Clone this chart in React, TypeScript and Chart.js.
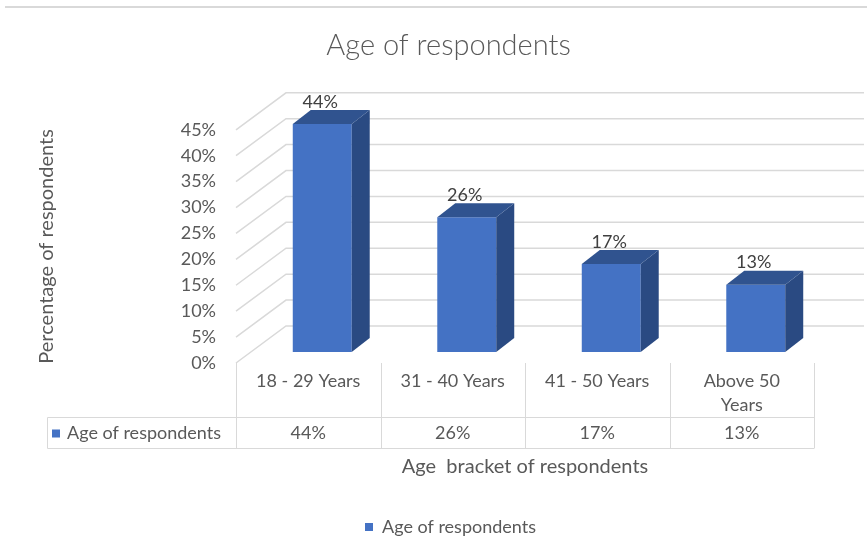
import React, { useEffect, useRef } from "react";
import { Chart, registerables } from "chart.js";

Chart.register(...registerables);

// ---- data ----
const categoryLabels: (string | string[])[] = ["18 - 29 Years", "31 - 40 Years", "41 - 50 Years", ["Above 50", "Years"]];
const values: number[] = [44, 26, 17, 13];
const seriesName = "Age of respondents";
const chartTitle = "Age of respondents";
const xAxisTitle = "Age  bracket of respondents";
const yAxisTitle = "Percentage of respondents";
const yMin = 0;
const yMax = 45;
const yStep = 5;

// ---- style ----
const FONT = "Lato, 'Open Sans', sans-serif";
const TEXT = "#595959";
const GRID = "#d9d9d9";
const FRONT = "#4472c4";
const TOP = "#30538f";
const SIDE = "#2a4a82";
const BAR_OFF = { x: 14, y: -11 };
const WALL = { x: 50, y: -37 };
const DEPTH = { x: 18, y: -14 };

const threeD = {
  id: "threeD",
  afterLayout(chart: any) {
    const lg = chart.legend;
    if (lg) {
      lg.left += 26;
      lg.right += 26;
      lg.top += 9;
      lg.bottom += 9;
    }
    const tb = chart.titleBlock;
    if (tb) {
      tb.left += 24;
      tb.right += 24;
    }
  },
  beforeDatasetsDraw(chart: any) {
    const { ctx, chartArea, scales } = chart;
    const { left, right } = chartArea;
    const y = scales.y;
    ctx.save();
    ctx.strokeStyle = GRID;
    ctx.lineWidth = 1.5;
    y.ticks.forEach((t: any) => {
      const py = y.getPixelForValue(t.value);
      ctx.beginPath();
      ctx.moveTo(left, py);
      ctx.lineTo(left + WALL.x, py + WALL.y);
      ctx.lineTo(right + WALL.x, py + WALL.y);
      ctx.stroke();
    });
    ctx.restore();
    ctx.save();
    ctx.translate(BAR_OFF.x, BAR_OFF.y);
  },
  afterDatasetsDraw(chart: any) {
    const { ctx } = chart;
    ctx.restore();
    const meta = chart.getDatasetMeta(0);
    ctx.save();
    meta.data.forEach((bar: any, i: number) => {
      const { x, y, base, width } = bar.getProps(["x", "y", "base", "width"], true);
      const l = x - width / 2 + BAR_OFF.x;
      const r = x + width / 2 + BAR_OFF.x;
      const t = y + BAR_OFF.y;
      const b = base + BAR_OFF.y;
      ctx.fillStyle = SIDE;
      ctx.beginPath();
      ctx.moveTo(r, t);
      ctx.lineTo(r + DEPTH.x, t + DEPTH.y);
      ctx.lineTo(r + DEPTH.x, b + DEPTH.y);
      ctx.lineTo(r, b);
      ctx.closePath();
      ctx.fill();
      ctx.fillStyle = TOP;
      ctx.beginPath();
      ctx.moveTo(l, t);
      ctx.lineTo(l + DEPTH.x, t + DEPTH.y);
      ctx.lineTo(r + DEPTH.x, t + DEPTH.y);
      ctx.lineTo(r, t);
      ctx.closePath();
      ctx.fill();
      ctx.fillStyle = "#404040";
      ctx.font = `18px ${FONT}`;
      ctx.textAlign = "center";
      ctx.textBaseline = "middle";
      ctx.fillText(values[i] + "%", x + BAR_OFF.x - 2, t - 22);
    });
    ctx.restore();
  },
  afterDraw(chart: any) {
    const { ctx, chartArea } = chart;
    const { left, right, bottom } = chartArea;
    const xs = chart.scales.x;
    const n = values.length;
    const cw = (right - left) / n;
    const rowTop = bottom + 54;
    const rowBot = bottom + 85;
    const keyLeft = 47;
    ctx.save();
    // outer top border
    ctx.strokeStyle = GRID;
    ctx.lineWidth = 2;
    ctx.beginPath();
    ctx.moveTo(5, 7);
    ctx.lineTo(867, 7);
    ctx.stroke();
    // data table
    ctx.lineWidth = 1;
    ctx.strokeStyle = GRID;
    for (let i = 0; i <= n; i++) {
      const bx = Math.round(left + i * cw) + 0.5;
      ctx.beginPath();
      ctx.moveTo(bx, bottom);
      ctx.lineTo(bx, rowBot);
      ctx.stroke();
    }
    ctx.beginPath();
    ctx.moveTo(keyLeft + 0.5, rowTop + 0.5);
    ctx.lineTo(Math.round(right) + 0.5, rowTop + 0.5);
    ctx.moveTo(keyLeft + 0.5, rowBot + 0.5);
    ctx.lineTo(Math.round(right) + 0.5, rowBot + 0.5);
    ctx.moveTo(keyLeft + 0.5, rowTop + 0.5);
    ctx.lineTo(keyLeft + 0.5, rowBot + 0.5);
    ctx.stroke();
    const cy = (rowTop + rowBot) / 2 + 1;
    ctx.font = `18px ${FONT}`;
    ctx.fillStyle = TEXT;
    ctx.textBaseline = "middle";
    ctx.textAlign = "center";
    values.forEach((v, i) => {
      ctx.fillText(v + "%", xs.getPixelForValue(i), cy);
    });
    ctx.fillStyle = FRONT;
    ctx.fillRect(keyLeft + 5, cy - 4, 8, 8);
    ctx.fillStyle = TEXT;
    ctx.textAlign = "left";
    ctx.fillText(seriesName, keyLeft + 20, cy);
    ctx.restore();
  },
};

export default function App() {
  const ref = useRef<HTMLCanvasElement>(null);
  useEffect(() => {
    if (!ref.current) return;
    Chart.defaults.font.family = FONT;
    const chart = new Chart(ref.current, {
      type: "bar",
      data: {
        labels: categoryLabels as any,
        datasets: [
          {
            label: seriesName,
            data: values,
            backgroundColor: FRONT,
            borderWidth: 0,
            barPercentage: 0.408,
            categoryPercentage: 1,
          },
        ],
      },
      options: {
        responsive: false,
        animation: false,
        events: [],
        layout: { padding: { left: 35, right: 53, top: 0, bottom: 0 } },
        plugins: {
          title: {
            display: true,
            text: chartTitle,
            color: TEXT,
            font: { size: 29, weight: 300, family: FONT },
            padding: { top: 28, bottom: 67 },
          },
          legend: {
            display: true,
            position: "bottom",
            labels: {
              color: TEXT,
              font: { size: 18, family: FONT },
              boxWidth: 8,
              boxHeight: 8,
              padding: 10,
            },
          },
          tooltip: { enabled: false },
        },
        scales: {
          x: {
            grid: { display: false, drawTicks: false },
            border: { display: false },
            ticks: {
              color: TEXT,
              font: { size: 18, family: FONT, lineHeight: 1.3333 },
              padding: 6,
              autoSkip: false,
              maxRotation: 0,
            },
            title: {
              display: true,
              text: xAxisTitle,
              color: TEXT,
              font: { size: 20, family: FONT },
              padding: { top: 0, bottom: 20 },
            },
            afterFit: (s: any) => {
              s.height = 136;
            },
          },
          y: {
            min: yMin,
            max: yMax,
            grid: { display: false, drawTicks: false },
            border: { display: false },
            ticks: {
              stepSize: yStep,
              color: TEXT,
              font: { size: 18, family: FONT },
              padding: 20,
              callback: (v: any) => v + "%",
            },
            title: {
              display: true,
              text: yAxisTitle,
              color: TEXT,
              font: { size: 20, family: FONT },
              padding: 0,
            },
            afterFit: (s: any) => {
              s.width = 201;
            },
          },
        },
      },
      plugins: [threeD],
    });
    return () => chart.destroy();
  }, []);
  return (
    <div style={{ position: "absolute", left: 0, top: 0, width: 867, height: 537, background: "#fff" }}>
      <canvas ref={ref} width={867} height={537} />
    </div>
  );
}
